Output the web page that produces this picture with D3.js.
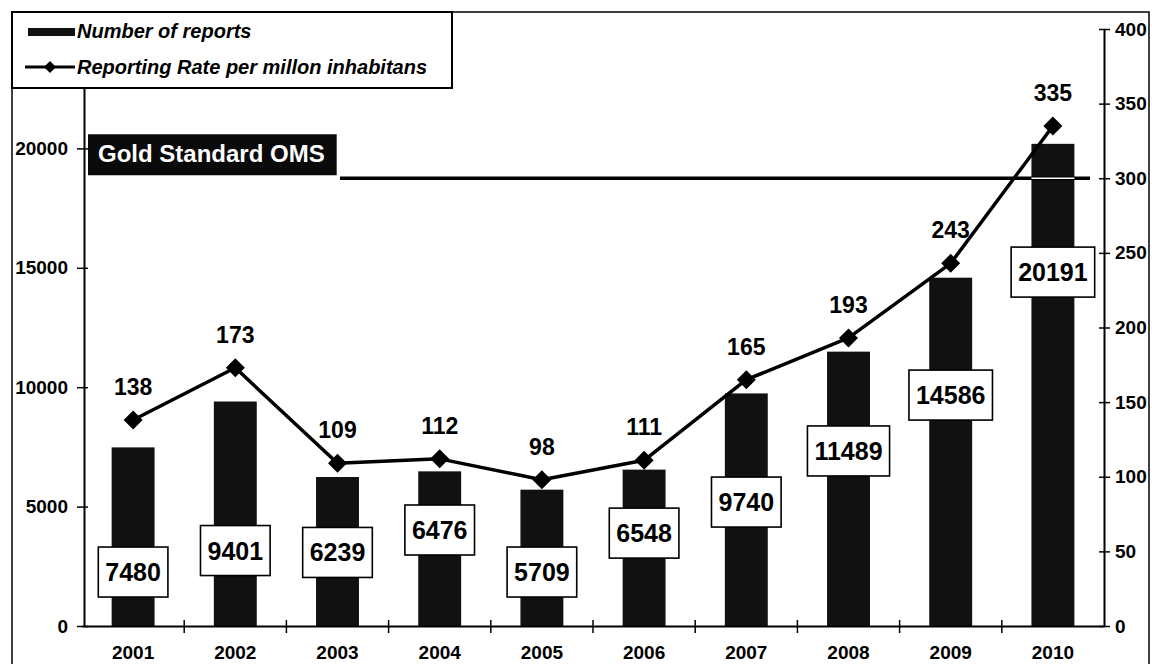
<!DOCTYPE html>
<html>
<head>
<meta charset="utf-8">
<script src="https://cdn.jsdelivr.net/npm/d3@7"></script>
<style>
    html, body { margin: 0; padding: 0; background: #fff; }
    #space { width: 1152px; height: 664px; }
    text { font-family: "Liberation Sans", Arial, sans-serif; }
</style>
</head>
<body>
<div id="space"></div>
<script>
// chart values
var years = ["2001", "2002", "2003", "2004", "2005", "2006", "2007", "2008", "2009", "2010"];
var reports = [7480, 9401, 6239, 6476, 5709, 6548, 9740, 11489, 14586, 20191];
var rates = [138, 173, 109, 112, 98, 111, 165, 193, 243, 335];
var leftTicks = [0, 5000, 10000, 15000, 20000];
var rightTicks = [0, 50, 100, 150, 200, 250, 300, 350, 400];
var goldStandard = 300;
var goldLabel = "Gold Standard OMS";
var legendLabels = ["Number of reports", "Reporting Rate per millon inhabitans"];
// where the boxed report labels sit, in report units (moved by hand in the original)
var boxAnchor = [2260, 3160, 3080, 4020, 2260, 3890, 5190, 7330, 9670, 14820];

var svg, x, yL, yR;

function init() {
    svg = d3.select("#space").append("svg")
        .attr("width", 1152)
        .attr("height", 664);

    x = d3.scaleBand().domain(years).range([82, 1104]).padding(0);
    yL = d3.scaleLinear().domain([0, 25000]).range([626, 29]);
    yR = d3.scaleLinear().domain([0, 400]).range([626, 29]);

    // outer frame
    svg.append("rect")
        .attr("x", 12).attr("y", 12)
        .attr("width", 1137).attr("height", 660)
        .attr("fill", "none")
        .attr("stroke", "#000")
        .attr("stroke-width", 1.5);

    drawGoldBox();
    drawBars();
    drawGoldLine();
    drawAxes();
    drawRateLine();
    drawBoxLabels();
    drawLegend();
}

function drawGoldBox() {
    var g = svg.append("g");
    var t = g.append("text")
        .attr("x", 98)
        .attr("y", yR(goldStandard) - 16)
        .attr("font-size", 24)
        .attr("font-weight", "bold")
        .attr("fill", "#fff")
        .text(goldLabel);
    var w = t.node().getComputedTextLength();
    g.insert("rect", "text")
        .attr("x", 88)
        .attr("y", yR(goldStandard) - 44)
        .attr("width", w + 22)
        .attr("height", 41)
        .attr("fill", "#0a0a0a");
}

function drawBars() {
    var bw = x.bandwidth() * 0.42;
    svg.append("g").selectAll("rect")
        .data(reports)
        .enter().append("rect")
        .attr("x", function (d, i) { return x(years[i]) + (x.bandwidth() - bw) / 2; })
        .attr("y", function (d) { return yL(d); })
        .attr("width", bw)
        .attr("height", function (d) { return yL(0) - yL(d); })
        .attr("fill", "#111");
}

function drawGoldLine() {
    var y = yR(goldStandard);
    svg.append("line")
        .attr("x1", 340).attr("x2", 1090)
        .attr("y1", y).attr("y2", y)
        .attr("stroke", "#000")
        .attr("stroke-width", 3.5);
    // the line shows as a white stripe where it crosses the last bar
    var bw = x.bandwidth() * 0.42;
    var last = years[years.length - 1];
    svg.append("line")
        .attr("x1", x(last) + (x.bandwidth() - bw) / 2)
        .attr("x2", x(last) + (x.bandwidth() + bw) / 2)
        .attr("y1", y).attr("y2", y)
        .attr("stroke", "#fff")
        .attr("stroke-width", 1.5);
}

function styleTicks(g) {
    g.selectAll(".tick text")
        .attr("font-size", 19)
        .attr("font-weight", "bold")
        .attr("fill", "#000")
        .style("font-family", "Liberation Sans, Arial, sans-serif");
}

function drawAxes() {
    var left = svg.append("g")
        .attr("transform", "translate(84,0)")
        .call(d3.axisLeft(yL).tickValues(leftTicks).tickFormat(d3.format("d")).tickSize(0).tickPadding(16));
    left.select(".domain").attr("stroke-width", 2);
    left.selectAll(".tick line").attr("x1", -7).attr("x2", 4).attr("stroke-width", 1.5);
    styleTicks(left);

    var right = svg.append("g")
        .attr("transform", "translate(1104,0)")
        .call(d3.axisRight(yR).tickValues(rightTicks).tickFormat(d3.format("d")).tickSize(0).tickPadding(11));
    right.select(".domain").attr("stroke-width", 2);
    right.selectAll(".tick line").attr("x1", -5).attr("x2", 6).attr("stroke-width", 1.5);
    styleTicks(right);

    var bottom = svg.append("g")
        .attr("transform", "translate(0," + yL(0) + ")")
        .call(d3.axisBottom(x).tickSize(0).tickPadding(20));
    bottom.select(".domain").attr("stroke-width", 2);
    styleTicks(bottom);

    // ticks sit between the years
    bottom.append("g").selectAll("line")
        .data(years.slice(0, -1))
        .enter().append("line")
        .attr("x1", function (d) { return x(d) + x.bandwidth(); })
        .attr("x2", function (d) { return x(d) + x.bandwidth(); })
        .attr("y1", -6).attr("y2", 7)
        .attr("stroke", "#000")
        .attr("stroke-width", 1.5);
}

function diamond(s) {
    return "M0," + (-s) + "L" + s + ",0L0," + s + "L" + (-s) + ",0Z";
}

function drawRateLine() {
    var cx = function (i) { return x(years[i]) + x.bandwidth() / 2; };

    var line = d3.line()
        .x(function (d, i) { return cx(i); })
        .y(function (d) { return yR(d); });

    svg.append("path")
        .datum(rates)
        .attr("d", line)
        .attr("fill", "none")
        .attr("stroke", "#000")
        .attr("stroke-width", 3.5)
        .attr("stroke-linejoin", "round");

    svg.append("g").selectAll("path")
        .data(rates)
        .enter().append("path")
        .attr("d", diamond(9.5))
        .attr("transform", function (d, i) { return "translate(" + cx(i) + "," + yR(d) + ")"; })
        .attr("fill", "#000");

    svg.append("g").selectAll("text")
        .data(rates)
        .enter().append("text")
        .attr("x", function (d, i) { return cx(i); })
        .attr("y", function (d) { return yR(d) - 25; })
        .attr("text-anchor", "middle")
        .attr("font-size", 23)
        .attr("font-weight", "bold")
        .attr("fill", "#000")
        .text(function (d) { return d; });
}

function drawBoxLabels() {
    var g = svg.append("g");
    reports.forEach(function (d, i) {
        var cx = x(years[i]) + x.bandwidth() / 2;
        var cy = yL(boxAnchor[i]);
        var item = g.append("g");
        var t = item.append("text")
            .attr("x", cx)
            .attr("y", cy + 9)
            .attr("text-anchor", "middle")
            .attr("font-size", 25)
            .attr("font-weight", "bold")
            .attr("fill", "#000")
            .text(d);
        var w = t.node().getComputedTextLength() + 14;
        item.insert("rect", "text")
            .attr("x", cx - w / 2)
            .attr("y", cy - 25)
            .attr("width", w)
            .attr("height", 50)
            .attr("fill", "#fff")
            .attr("stroke", "#000")
            .attr("stroke-width", 1.6);
    });
}

function drawLegend() {
    var g = svg.append("g");
    g.append("rect")
        .attr("x", 12).attr("y", 12)
        .attr("width", 440).attr("height", 76)
        .attr("fill", "#fff")
        .attr("stroke", "#000")
        .attr("stroke-width", 2);

    g.append("rect")
        .attr("x", 28).attr("y", 28)
        .attr("width", 47).attr("height", 8)
        .attr("fill", "#111");

    g.append("line")
        .attr("x1", 25).attr("x2", 75)
        .attr("y1", 67).attr("y2", 67)
        .attr("stroke", "#000")
        .attr("stroke-width", 3);
    g.append("path")
        .attr("d", diamond(6))
        .attr("transform", "translate(50,67)")
        .attr("fill", "#000");

    g.selectAll("text")
        .data(legendLabels)
        .enter().append("text")
        .attr("x", 77)
        .attr("y", function (d, i) { return 38 + i * 36; })
        .attr("font-size", 20)
        .attr("font-weight", "bold")
        .attr("font-style", "italic")
        .attr("fill", "#000")
        .text(function (d) { return d; });
}

init();
</script>
</body>
</html>
